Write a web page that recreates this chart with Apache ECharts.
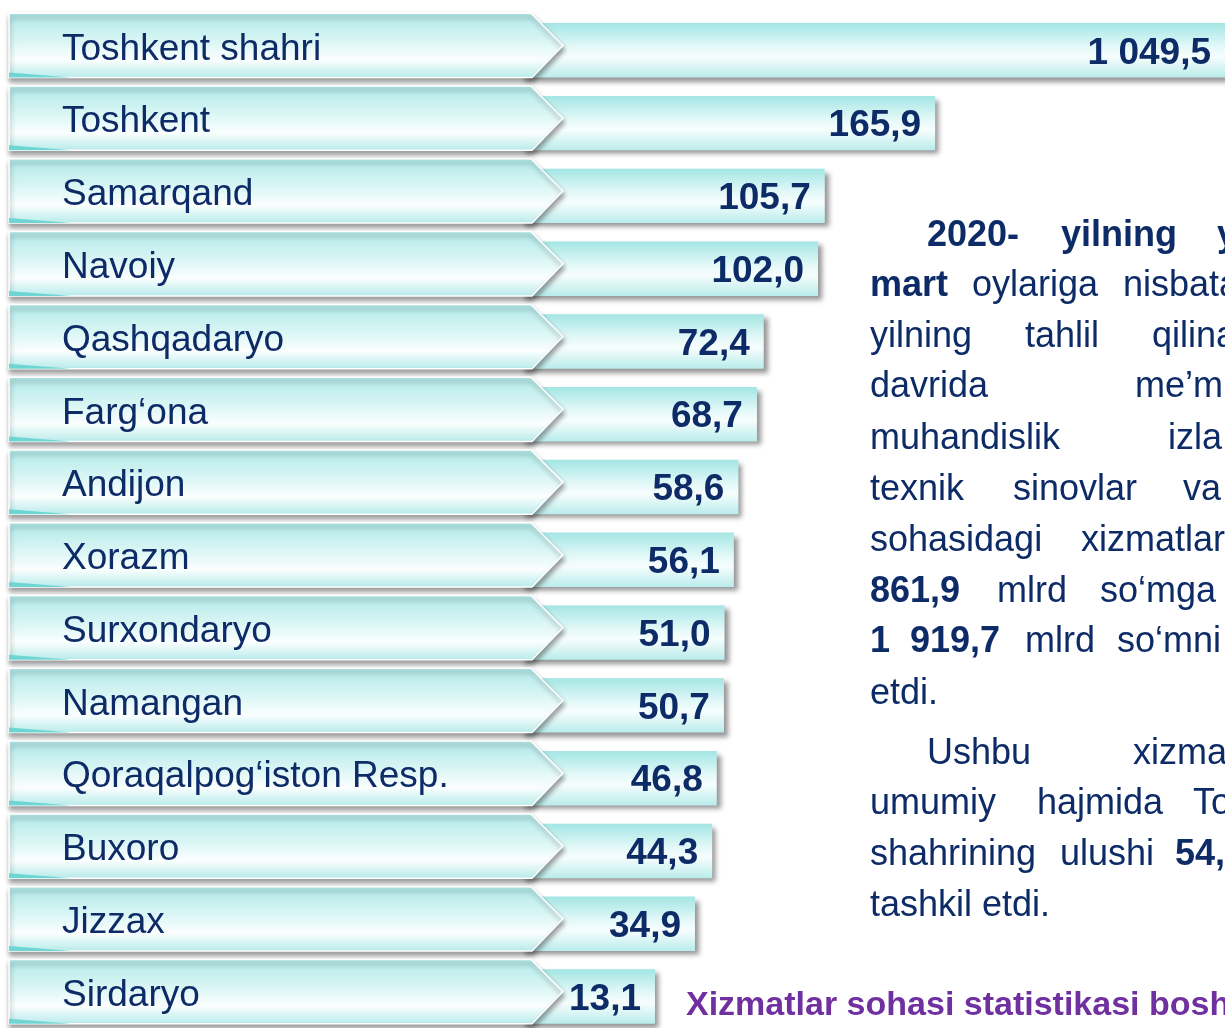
<!DOCTYPE html>
<html>
<head>
<meta charset="utf-8">
<script src="https://cdn.jsdelivr.net/npm/echarts@6/dist/echarts.min.js"></script>
<style>
html,body{margin:0;padding:0;background:#fff;}
#chart{width:1225px;height:1028px;}
</style>
</head>
<body>
<div id="chart"></div>
<script>
// ---- data ----
const categories = ['Toshkent shahri','Toshkent','Samarqand','Navoiy','Qashqadaryo','Farg\u2018ona','Andijon','Xorazm','Surxondaryo','Namangan','Qoraqalpog\u2018iston Resp.','Buxoro','Jizzax','Sirdaryo'];
const values = [1049.5,165.9,105.7,102.0,72.4,68.7,58.6,56.1,51.0,50.7,46.8,44.3,34.9,13.1];

// ---- paragraph text (right side) ----
const paraLines = [
  [['2020-',1],['yilning',1],['y',1]],
  [['mart',1],['oylariga',0],['nisbata',0]],
  [['yilning',0],['tahlil',0],['qilina',0]],
  [['davrida',0],['me\u2019m',0]],
  [['muhandislik',0],['izla',0]],
  [['texnik',0],['sinovlar',0],['va',0]],
  [['sohasidagi',0],['xizmatlar',0]],
  [['861,9',1],['mlrd',0],['so\u2018mga',0]],
  [['1',1],['919,7',1],['mlrd',0],['so\u2018mni',0]],
  [['etdi.',0]],
  [['Ushbu',0],['xizma',0]],
  [['umumiy',0],['hajmida',0],['To',0]],
  [['shahrining',0],['ulushi',0],['54,',1]],
  [['tashkil etdi.',0]]
];
const sourceText = 'Xizmatlar sohasi statistikasi bosh';

// ---- layout (not data) ----
const paraX = [[927,1061,1217],[870,972,1123],[870,1025,1152],[870,1135],[870,1168],[870,1013,1183],[870,1081],[870,997,1100],[870,910,1025,1117],[870],[927,1133],[870,1037,1193],[870,1060,1175],[870]];
const paraY = [236.5,286.5,337.5,387.5,439.5,490.5,541.5,592.5,642.5,694.5,754.5,804.5,855.5,906.5];

const X_MIN = -60, X_MAX = 324;
const NAVY = '#0d2b66';
const FONT = '"Liberation Sans", Arial, sans-serif';

function fmt(v){
  const s = v.toFixed(1).split('.');
  const int = s[0].replace(/\B(?=(\d{3})+(?!\d))/g, ' ');
  return int + ',' + s[1];
}

function barGrad(){
  return new echarts.graphic.LinearGradient(0,0,0,1,[
    {offset:0,color:'#a3e6e4'},
    {offset:0.45,color:'#e6f9f9'},
    {offset:0.62,color:'#f7fdfd'},
    {offset:1,color:'#b9eceb'}
  ]);
}
function chevGrad(){
  return new echarts.graphic.LinearGradient(0,0,0,1,[
    {offset:0,color:'#b0e9e8'},
    {offset:0.4,color:'#d6f5f4'},
    {offset:0.72,color:'#fbfefe'},
    {offset:1,color:'#b5ebea'}
  ]);
}

function renderBar(params, api){
  const v = api.value(0), i = api.value(1);
  const cs = params.coordSys;
  const end = api.coord([v, i]);
  const start = api.coord([X_MIN, i]);
  const band = api.size([0,1])[1];
  const cy = end[1];
  const top = cy - band*0.306, bottom = cy + band*0.4416;
  const gridRight = cs.x + cs.width;
  const right = Math.min(end[0], gridRight + 30);
  const labelRight = Math.min(end[0], gridRight) - 14;
  return {
    type:'group',
    children:[
      {type:'rect', shape:{x:start[0], y:top, width:right-start[0], height:bottom-top},
       style:{fill:barGrad(), shadowColor:'rgba(0,0,0,0.42)', shadowBlur:5, shadowOffsetX:4, shadowOffsetY:4}},
      {type:'text', style:{text:fmt(v), x:labelRight, y:(top+bottom)/2 + 3, align:'right', verticalAlign:'middle',
        font:'bold 37px ' + FONT, fill:NAVY}}
    ]
  };
}

function renderChevron(params, api){
  const i = api.value(1);
  const p = api.coord([X_MIN, i]);
  const band = api.size([0,1])[1];
  const cy = p[1];
  const top = cy - band*0.4416, bot = cy + band*0.4416;
  const cl = 9, cr = 531, tip = 563;
  return {
    type:'group',
    children:[
      {type:'polygon', shape:{points:[[cl,top],[cr,top],[tip,cy],[cr+1,bot],[cl,bot]]},
       style:{fill:chevGrad(), stroke:'#ffffff', lineWidth:1.5, shadowColor:'rgba(0,0,0,0.38)', shadowBlur:5, shadowOffsetX:1, shadowOffsetY:4}},
      {type:'polygon', shape:{points:[[cl,bot-5],[cl+62,bot],[cl,bot]]},
       style:{fill:'#6fd5d3'}},
      {type:'text', style:{text:categories[params.dataIndex], x:62, y:cy+4, align:'left', verticalAlign:'middle',
        font:'37px ' + FONT, fill:NAVY}}
    ]
  };
}

const seriesData = values.map((v,i)=>[v,i]);

const graphicEls = [];
paraLines.forEach((line, li)=>{
  line.forEach((w, wi)=>{
    graphicEls.push({type:'text', x:paraX[li][wi], y:paraY[li], silent:true,
      style:{text:w[0], align:'left', verticalAlign:'middle', font:(w[1]?'bold ':'') + '36px ' + FONT, fill:NAVY}});
  });
});
graphicEls.push({type:'text', x:686, y:1006, silent:true,
  style:{text:sourceText, align:'left', verticalAlign:'middle', font:'bold 34px ' + FONT, fill:'#7030a0'}});

const chart = echarts.init(document.getElementById('chart'), null, {renderer:'canvas'});
chart.setOption({
  animation:false,
  backgroundColor:'#ffffff',
  grid:{left:521, right:0, top:9, height:1030, containLabel:false},
  xAxis:{type:'value', min:X_MIN, max:X_MAX, show:false},
  yAxis:{type:'category', data:categories, inverse:true, show:false},
  series:[
    {type:'custom', name:'bars', renderItem:renderBar, data:seriesData, encode:{x:0,y:1}, z:2, clip:false},
    {type:'custom', name:'labels', renderItem:renderChevron, data:seriesData, encode:{x:0,y:1}, z:3, clip:false}
  ],
  graphic:{elements:graphicEls}
});
</script>
</body>
</html>
